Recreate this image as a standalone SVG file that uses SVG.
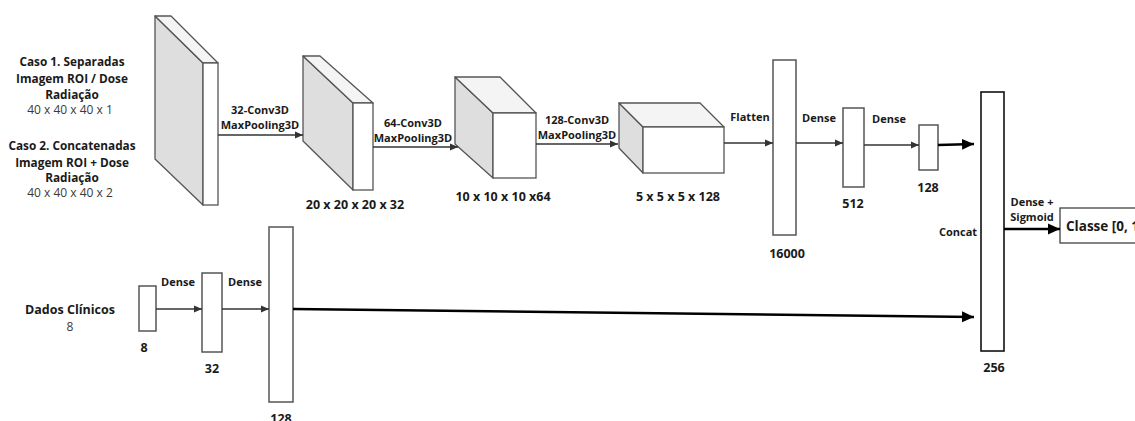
<svg xmlns="http://www.w3.org/2000/svg" width="1135" height="421" viewBox="0 0 1135 421">
  <style>
    .lbl { font-family: "Open Sans", "Liberation Sans", sans-serif; font-weight: 700; font-size: 11px; fill: #1a1a1a; text-anchor: middle; }
    .dim { font-family: "Open Sans", "Liberation Sans", sans-serif; font-weight: 700; font-size: 12.5px; fill: #1a1a1a; text-anchor: middle; }
    .sub { font-family: "Open Sans", "Liberation Sans", sans-serif; font-weight: 400; font-size: 12px; fill: #3a3a3a; text-anchor: middle; }
    .head { font-family: "Open Sans", "Liberation Sans", sans-serif; font-weight: 700; font-size: 11.8px; fill: #1a1a1a; text-anchor: middle; }
    .side { fill: #dedede; stroke: #555; stroke-width: 1.3; stroke-linejoin: round; }
    .top { fill: #f4f4f4; stroke: #555; stroke-width: 1.3; stroke-linejoin: round; }
    .front { fill: #ffffff; stroke: #555; stroke-width: 1.3; }
    .bar { fill: #ffffff; stroke: #555; stroke-width: 1.5; }
    .barK { fill: #ffffff; stroke: #111; stroke-width: 1.6; }
    .thin { stroke: #333; stroke-width: 1.3; fill: none; }
    .thick { stroke: #000; stroke-width: 2.6; fill: none; }
  </style>
  <defs>
    <marker id="ah" markerUnits="userSpaceOnUse" markerWidth="9" markerHeight="8" refX="8" refY="4" orient="auto">
      <path d="M0,0.5 L8,4 L0,7.5 Z" fill="#333"/>
    </marker>
    <marker id="ahk" markerUnits="userSpaceOnUse" markerWidth="13" markerHeight="12" refX="12" refY="6" orient="auto">
      <path d="M0,0.5 L12,6 L0,11.5 Z" fill="#000"/>
    </marker>
  </defs>

  <rect width="1135" height="421" fill="#ffffff"/>

  <!-- input description -->
  <g id="input-text">
    <text class="head" x="72" y="66">Caso 1. Separadas</text>
    <text class="head" x="72" y="83">Imagem ROI / Dose</text>
    <text class="head" x="72" y="99">Radiação</text>
    <text class="sub" x="70" y="114">40 x 40 x 40 x 1</text>
    <text class="head" x="72" y="150">Caso 2. Concatenadas</text>
    <text class="head" x="72" y="167">Imagem ROI + Dose</text>
    <text class="head" x="72" y="182">Radiação</text>
    <text class="sub" x="70" y="197">40 x 40 x 40 x 2</text>
  </g>

  <!-- 3D volume blocks -->
  <g id="vol-input">
    <polygon class="side" points="155,16 203,63 203,205 155,159"/>
    <polygon class="top" points="155,16 171,16 218,63 203,63"/>
    <rect class="front" x="203" y="63" width="15" height="142"/>
  </g>
  <g id="vol-20">
    <polygon class="side" points="303,56 353,103 353,190 303,141"/>
    <polygon class="top" points="303,56 320,56 373,103 353,103"/>
    <rect class="front" x="353" y="103" width="20" height="87"/>
    <text class="dim" x="355" y="209">20 x 20 x 20 x 32</text>
  </g>
  <g id="vol-10">
    <polygon class="side" points="455,77 493,113 493,178 455,144"/>
    <polygon class="top" points="455,77 500,77 536,113 493,113"/>
    <rect class="front" x="493" y="113" width="43" height="65"/>
    <text class="dim" x="503" y="201">10 x 10 x 10 x64</text>
  </g>
  <g id="vol-5">
    <polygon class="side" points="619,103 643,127 643,173 619,148"/>
    <polygon class="top" points="619,103 700,103 724,127 643,127"/>
    <rect class="front" x="643" y="127" width="81" height="46"/>
    <text class="dim" x="678" y="201">5 x 5 x 5 x 128</text>
  </g>

  <!-- dense layers, image branch -->
  <g id="flatten">
    <rect class="bar" x="773" y="60" width="23" height="175"/>
    <text class="dim" x="787" y="258">16000</text>
  </g>
  <g id="dense-512">
    <rect class="bar" x="843" y="108" width="21" height="79"/>
    <text class="dim" x="853" y="208">512</text>
  </g>
  <g id="dense-128a">
    <rect class="bar" x="919" y="125" width="19" height="45"/>
    <text class="dim" x="928" y="192">128</text>
  </g>

  <!-- clinical branch -->
  <g id="clinical-text">
    <text class="dim" x="70" y="314">Dados Clínicos</text>
    <text class="sub" x="70" y="331">8</text>
  </g>
  <g id="clin-8">
    <rect class="bar" x="139" y="286" width="17" height="45"/>
    <text class="dim" x="144" y="352">8</text>
  </g>
  <g id="clin-32">
    <rect class="bar" x="202" y="273" width="20" height="79"/>
    <text class="dim" x="212" y="373">32</text>
  </g>
  <g id="clin-128">
    <rect class="bar" x="269" y="227" width="24" height="175"/>
    <text class="dim" x="281" y="423">128</text>
  </g>

  <!-- merge and output -->
  <g id="concat">
    <rect class="barK" x="981" y="92" width="23" height="259"/>
    <text class="lbl" x="958" y="236">Concat</text>
    <text class="dim" x="994" y="372">256</text>
  </g>
  <g id="output">
    <rect x="1060" y="208" width="90" height="35" fill="#ffffff" stroke="#333" stroke-width="1.2"/>
    <text x="1066" y="231" font-family="'Open Sans', 'Liberation Sans', sans-serif" font-weight="700" font-size="13.5px" fill="#1a1a1a">Classe [0, 1]</text>
  </g>

  <!-- connectors -->
  <g id="connectors">
    <line class="thin" x1="218" y1="135" x2="303" y2="135" marker-end="url(#ah)"/>
    <line class="thin" x1="373" y1="147" x2="458" y2="147" marker-end="url(#ah)"/>
    <line class="thin" x1="536" y1="144" x2="618" y2="144" marker-end="url(#ah)"/>
    <line class="thin" x1="724" y1="143" x2="773" y2="143" marker-end="url(#ah)"/>
    <line class="thin" x1="796" y1="143" x2="843" y2="143" marker-end="url(#ah)"/>
    <line class="thin" x1="864" y1="145" x2="919" y2="145" marker-end="url(#ah)"/>
    <line class="thin" x1="156" y1="309" x2="202" y2="309" marker-end="url(#ah)"/>
    <line class="thin" x1="222" y1="309" x2="269" y2="309" marker-end="url(#ah)"/>
    <line class="thick" x1="938" y1="145" x2="974" y2="144" marker-end="url(#ahk)"/>
    <line class="thick" x1="293" y1="309" x2="974" y2="317" marker-end="url(#ahk)"/>
    <line class="thick" x1="1004" y1="229" x2="1060" y2="229" marker-end="url(#ahk)"/>

    <text class="lbl" x="260" y="114">32-Conv3D</text>
    <text class="lbl" x="260" y="129">MaxPooling3D</text>
    <text class="lbl" x="413" y="127">64-Conv3D</text>
    <text class="lbl" x="413" y="142">MaxPooling3D</text>
    <text class="lbl" x="577" y="124">128-Conv3D</text>
    <text class="lbl" x="577" y="139">MaxPooling3D</text>
    <text class="lbl" x="750" y="121">Flatten</text>
    <text class="lbl" x="819" y="122">Dense</text>
    <text class="lbl" x="889" y="123">Dense</text>
    <text class="lbl" x="1032" y="206">Dense +</text>
    <text class="lbl" x="1032" y="221">Sigmoid</text>
    <text class="lbl" x="178" y="286">Dense</text>
    <text class="lbl" x="245" y="286">Dense</text>
  </g>
</svg>
